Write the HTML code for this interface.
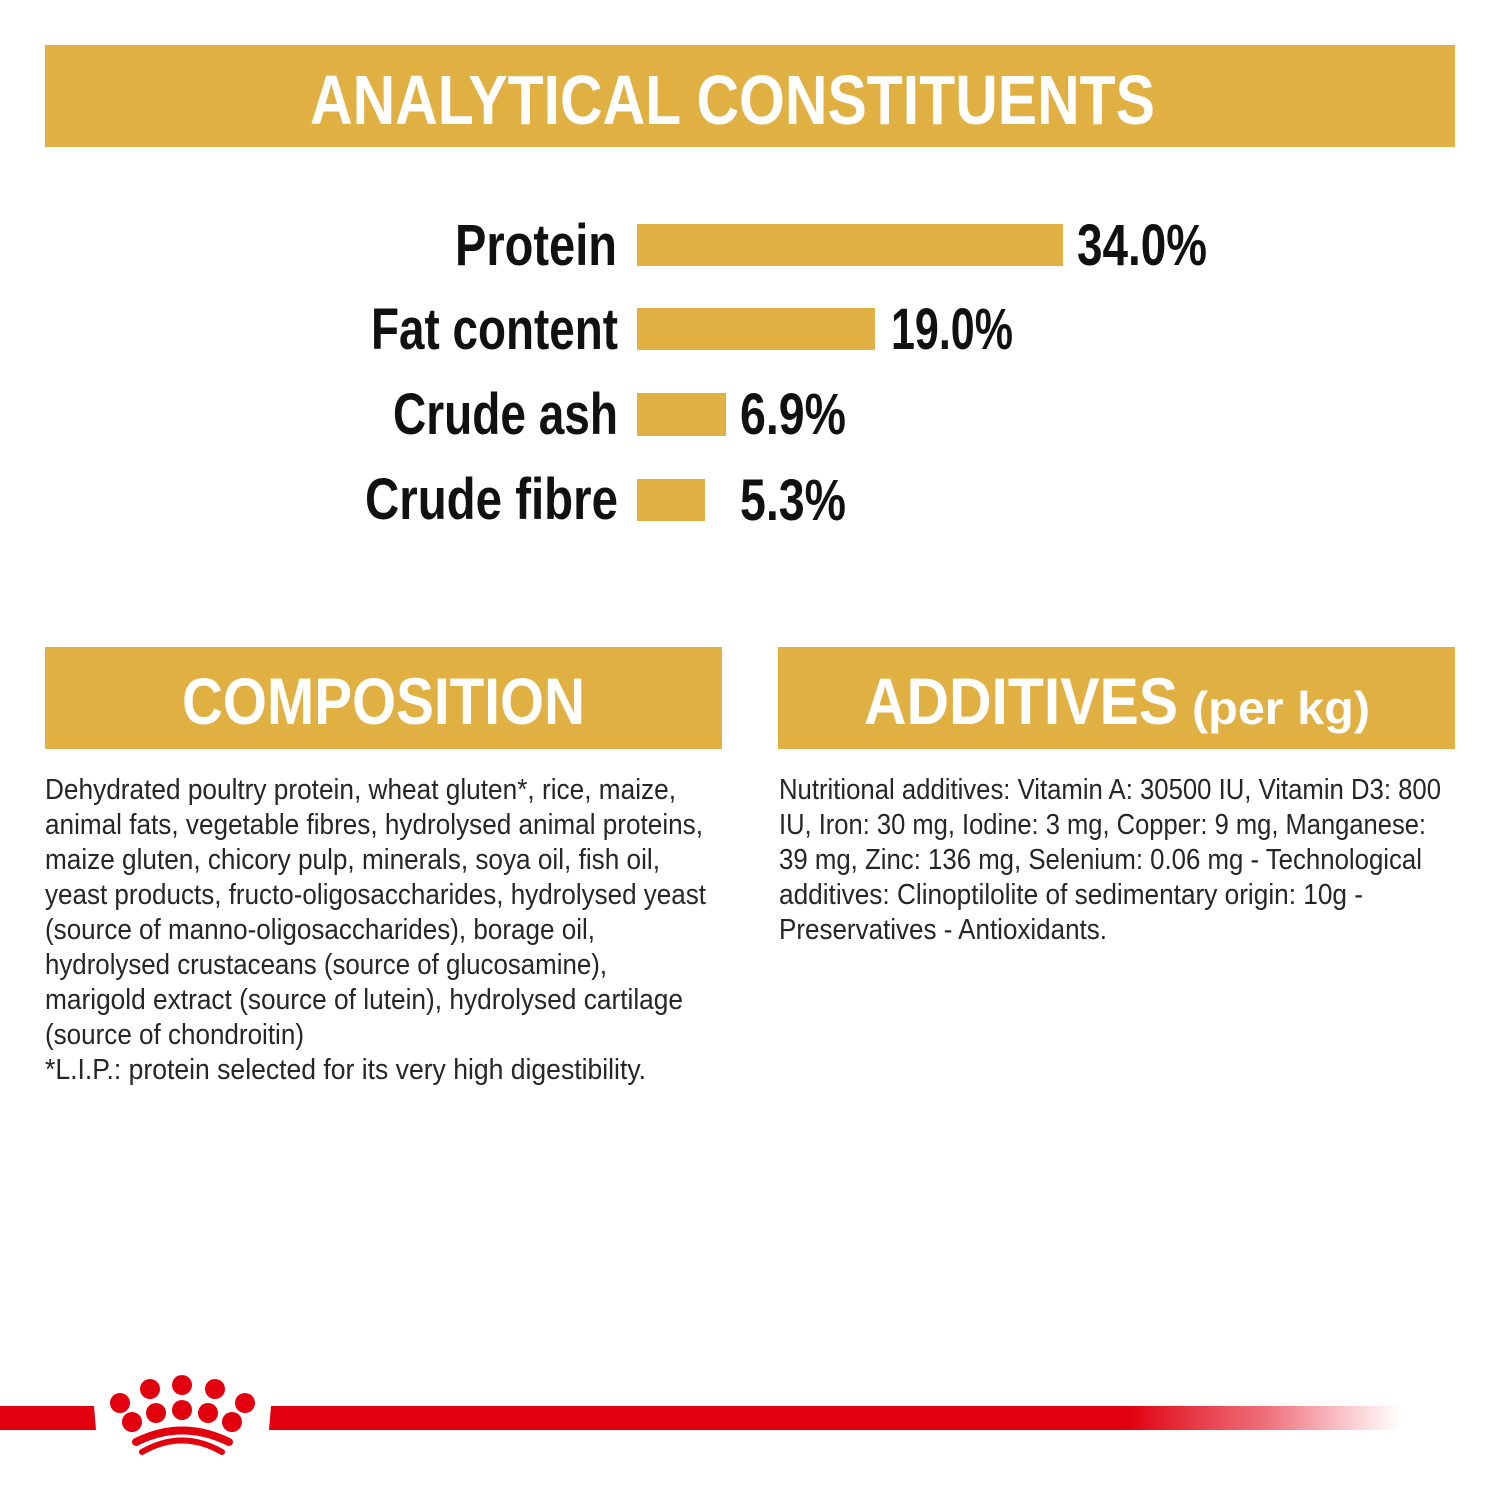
<!DOCTYPE html>
<html>
<head>
<meta charset="utf-8">
<style>
html,body{margin:0;padding:0;background:#fff;}
svg{display:block;}
text{font-family:"Liberation Sans",Arial,sans-serif;}
.b{font-weight:bold;}
.t{font-size:28.5px;fill:#262626;}
</style>
</head>
<body>
<svg width="1500" height="1500" viewBox="0 0 1500 1500" xmlns="http://www.w3.org/2000/svg">
  <defs>
    <linearGradient id="rg" x1="270" y1="0" x2="1400" y2="0" gradientUnits="userSpaceOnUse">
      <stop offset="0" stop-color="#e2000f" stop-opacity="1"/>
      <stop offset="0.76" stop-color="#e2000f" stop-opacity="1"/>
      <stop offset="0.88" stop-color="#e5303f" stop-opacity="0.7"/>
      <stop offset="1" stop-color="#e83a48" stop-opacity="0"/>
    </linearGradient>
  </defs>

  <!-- Header -->
  <rect x="45" y="45" width="1410" height="102" fill="#e1b043"/>
  <text class="b" x="310" y="124" font-size="70" fill="#fff" textLength="845" lengthAdjust="spacingAndGlyphs">ANALYTICAL CONSTITUENTS</text>

  <!-- Bars -->
  <text class="b" x="455" y="265" font-size="58" fill="#111" textLength="162" lengthAdjust="spacingAndGlyphs">Protein</text>
  <rect x="637" y="224" width="426" height="42" fill="#e1b043"/>
  <text class="b" x="1077" y="265" font-size="58" fill="#111" textLength="130" lengthAdjust="spacingAndGlyphs">34.0%</text>

  <text class="b" x="371" y="349" font-size="58" fill="#111" textLength="247" lengthAdjust="spacingAndGlyphs">Fat content</text>
  <rect x="637" y="308" width="238" height="42" fill="#e1b043"/>
  <text class="b" x="891" y="349" font-size="58" fill="#111" textLength="122" lengthAdjust="spacingAndGlyphs">19.0%</text>

  <text class="b" x="393" y="434" font-size="58" fill="#111" textLength="225" lengthAdjust="spacingAndGlyphs">Crude ash</text>
  <rect x="637" y="393" width="89" height="43" fill="#e1b043"/>
  <text class="b" x="740" y="434" font-size="58" fill="#111" textLength="106" lengthAdjust="spacingAndGlyphs">6.9%</text>

  <text class="b" x="365" y="519" font-size="58" fill="#111" textLength="253" lengthAdjust="spacingAndGlyphs">Crude fibre</text>
  <rect x="637" y="479" width="68" height="42" fill="#e1b043"/>
  <text class="b" x="740" y="520" font-size="58" fill="#111" textLength="106" lengthAdjust="spacingAndGlyphs">5.3%</text>

  <!-- Composition header -->
  <rect x="45" y="647" width="677" height="102" fill="#e1b043"/>
  <text class="b" x="182" y="724" font-size="66" fill="#fff" textLength="403" lengthAdjust="spacingAndGlyphs">COMPOSITION</text>

  <!-- Additives header -->
  <rect x="778" y="647" width="677" height="102" fill="#e1b043"/>
  <text class="b" x="864" y="724" font-size="66" fill="#fff" textLength="314" lengthAdjust="spacingAndGlyphs">ADDITIVES</text>
  <text class="b" x="1192" y="724" font-size="46" fill="#fff" textLength="178" lengthAdjust="spacingAndGlyphs">(per kg)</text>

  <!-- Composition text -->
  <text class="t" x="45" y="799" textLength="631" lengthAdjust="spacingAndGlyphs">Dehydrated poultry protein, wheat gluten*, rice, maize,</text>
  <text class="t" x="45" y="834" textLength="658" lengthAdjust="spacingAndGlyphs">animal fats, vegetable fibres, hydrolysed animal proteins,</text>
  <text class="t" x="45" y="869" textLength="615" lengthAdjust="spacingAndGlyphs">maize gluten, chicory pulp, minerals, soya oil, fish oil,</text>
  <text class="t" x="45" y="904" textLength="661" lengthAdjust="spacingAndGlyphs">yeast products, fructo-oligosaccharides, hydrolysed yeast</text>
  <text class="t" x="45" y="939" textLength="550" lengthAdjust="spacingAndGlyphs">(source of manno-oligosaccharides), borage oil,</text>
  <text class="t" x="45" y="974" textLength="562" lengthAdjust="spacingAndGlyphs">hydrolysed crustaceans (source of glucosamine),</text>
  <text class="t" x="45" y="1009" textLength="638" lengthAdjust="spacingAndGlyphs">marigold extract (source of lutein), hydrolysed cartilage</text>
  <text class="t" x="45" y="1044" textLength="259" lengthAdjust="spacingAndGlyphs">(source of chondroitin)</text>
  <text class="t" x="45" y="1079" textLength="601" lengthAdjust="spacingAndGlyphs">*L.I.P.: protein selected for its very high digestibility.</text>

  <!-- Additives text -->
  <text class="t" x="779" y="799" textLength="662" lengthAdjust="spacingAndGlyphs">Nutritional additives: Vitamin A: 30500 IU, Vitamin D3: 800</text>
  <text class="t" x="779" y="834" textLength="647" lengthAdjust="spacingAndGlyphs">IU, Iron: 30 mg, Iodine: 3 mg, Copper: 9 mg, Manganese:</text>
  <text class="t" x="779" y="869" textLength="643" lengthAdjust="spacingAndGlyphs">39 mg, Zinc: 136 mg, Selenium: 0.06 mg - Technological</text>
  <text class="t" x="779" y="904" textLength="584" lengthAdjust="spacingAndGlyphs">additives: Clinoptilolite of sedimentary origin: 10g -</text>
  <text class="t" x="779" y="939" textLength="328" lengthAdjust="spacingAndGlyphs">Preservatives - Antioxidants.</text>

  <!-- Red line -->
  <polygon points="0,1406 94,1406 96,1430 0,1430" fill="#e2000f"/>
  <polygon points="271,1406 1400,1406 1400,1430 269,1430" fill="url(#rg)"/>

  <!-- Crown -->
  <g fill="#e2000f">
    <circle cx="120" cy="1403" r="10"/>
    <circle cx="150" cy="1389" r="10"/>
    <circle cx="182" cy="1385" r="10"/>
    <circle cx="215" cy="1389" r="10"/>
    <circle cx="245" cy="1403" r="10"/>
    <circle cx="132" cy="1422" r="10"/>
    <circle cx="156" cy="1413" r="10"/>
    <circle cx="182" cy="1410" r="10"/>
    <circle cx="208" cy="1413" r="10"/>
    <circle cx="232" cy="1422" r="10"/>
  </g>
  <path d="M136 1442 Q182 1419 229 1442" fill="none" stroke="#e2000f" stroke-width="8" stroke-linecap="round"/>
  <path d="M142 1452 Q182 1429 222 1452" fill="none" stroke="#e2000f" stroke-width="6" stroke-linecap="round"/>
</svg>
</body>
</html>
